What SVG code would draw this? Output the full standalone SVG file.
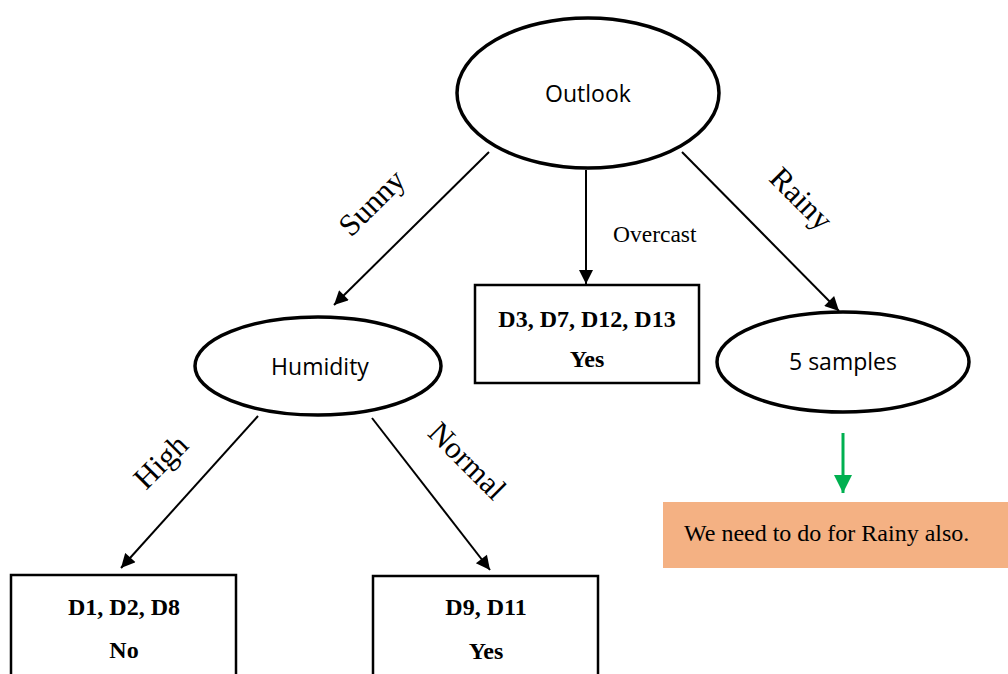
<svg xmlns="http://www.w3.org/2000/svg" width="1008" height="674" viewBox="0 0 1008 674">
  <style>
    .oval { fill: #ffffff; stroke: #000000; stroke-width: 3.5; }
    .box { fill: #ffffff; stroke: #000000; stroke-width: 2.5; }
    .edge { stroke: #000000; stroke-width: 2; fill: none; marker-end: url(#head); }
    .sans { font-family: "Open Sans", "Noto Sans", sans-serif; font-size: 23px; fill: #000; text-anchor: middle; }
    .serif { font-family: "Liberation Serif", serif; fill: #000; }
    .lbl { font-size: 31px; text-anchor: middle; }
    .leaf { font-size: 24px; font-weight: bold; text-anchor: middle; }
  </style>
  <defs>
    <marker id="head" viewBox="0 0 10 10" refX="10" refY="5" markerWidth="8" markerHeight="7" markerUnits="strokeWidth" orient="auto">
      <path d="M0,0 L10,5 L0,10 z" fill="#000"/>
    </marker>
    <marker id="headGreen" viewBox="0 0 10 10" refX="10" refY="5" markerWidth="6" markerHeight="6" markerUnits="strokeWidth" orient="auto">
      <path d="M0,0 L10,5 L0,10 z" fill="#00B050"/>
    </marker>
  </defs>

  <g id="connectors">
    <line class="edge" x1="489" y1="152" x2="334" y2="305"/>
    <line class="edge" x1="586" y1="170" x2="586" y2="284"/>
    <line class="edge" x1="682" y1="152" x2="839" y2="311"/>
    <line class="edge" x1="258" y1="416" x2="121" y2="568"/>
    <line class="edge" x1="372" y1="418" x2="490" y2="570"/>
    <line x1="843" y1="433" x2="843" y2="493" stroke="#00B050" stroke-width="3" marker-end="url(#headGreen)"/>
    <text class="serif lbl" transform="translate(379,210) rotate(-45)">Sunny</text>
    <text class="serif lbl" transform="translate(794,206) rotate(45)">Rainy</text>
    <text class="serif lbl" transform="translate(168,469) rotate(-45)">High</text>
    <text class="serif lbl" transform="translate(460,468) rotate(45)">Normal</text>
    <text class="serif" x="613" y="242" font-size="23.5">Overcast</text>
  </g>

  <g id="outlook">
    <ellipse class="oval" cx="588" cy="93" rx="131" ry="75"/>
    <text class="sans" x="588" y="102" font-size="24.5">Outlook</text>
  </g>

  <g id="humidity">
    <ellipse class="oval" cx="318" cy="366" rx="123" ry="49"/>
    <text class="sans" x="320" y="375" font-size="23.5">Humidity</text>
  </g>

  <g id="rainy-node">
    <ellipse class="oval" cx="843" cy="362" rx="126" ry="50"/>
    <text class="sans" x="843" y="370" font-size="23">5 samples</text>
  </g>

  <g id="overcast-leaf">
    <rect class="box" x="475" y="285" width="224" height="98"/>
    <text class="serif leaf" x="587" y="327">D3, D7, D12, D13</text>
    <text class="serif leaf" x="587" y="367">Yes</text>
  </g>

  <g id="high-leaf">
    <rect class="box" x="11" y="575" width="225" height="110"/>
    <text class="serif leaf" x="124" y="615">D1, D2, D8</text>
    <text class="serif leaf" x="124" y="658">No</text>
  </g>

  <g id="normal-leaf">
    <rect class="box" x="373" y="576" width="225" height="110"/>
    <text class="serif leaf" x="486" y="615">D9, D11</text>
    <text class="serif leaf" x="486" y="659">Yes</text>
  </g>

  <g id="note">
    <rect x="663" y="502" width="345" height="66" fill="#F4B183"/>
    <text class="serif" x="684" y="541" font-size="24">We need to do for Rainy also.</text>
  </g>
</svg>
